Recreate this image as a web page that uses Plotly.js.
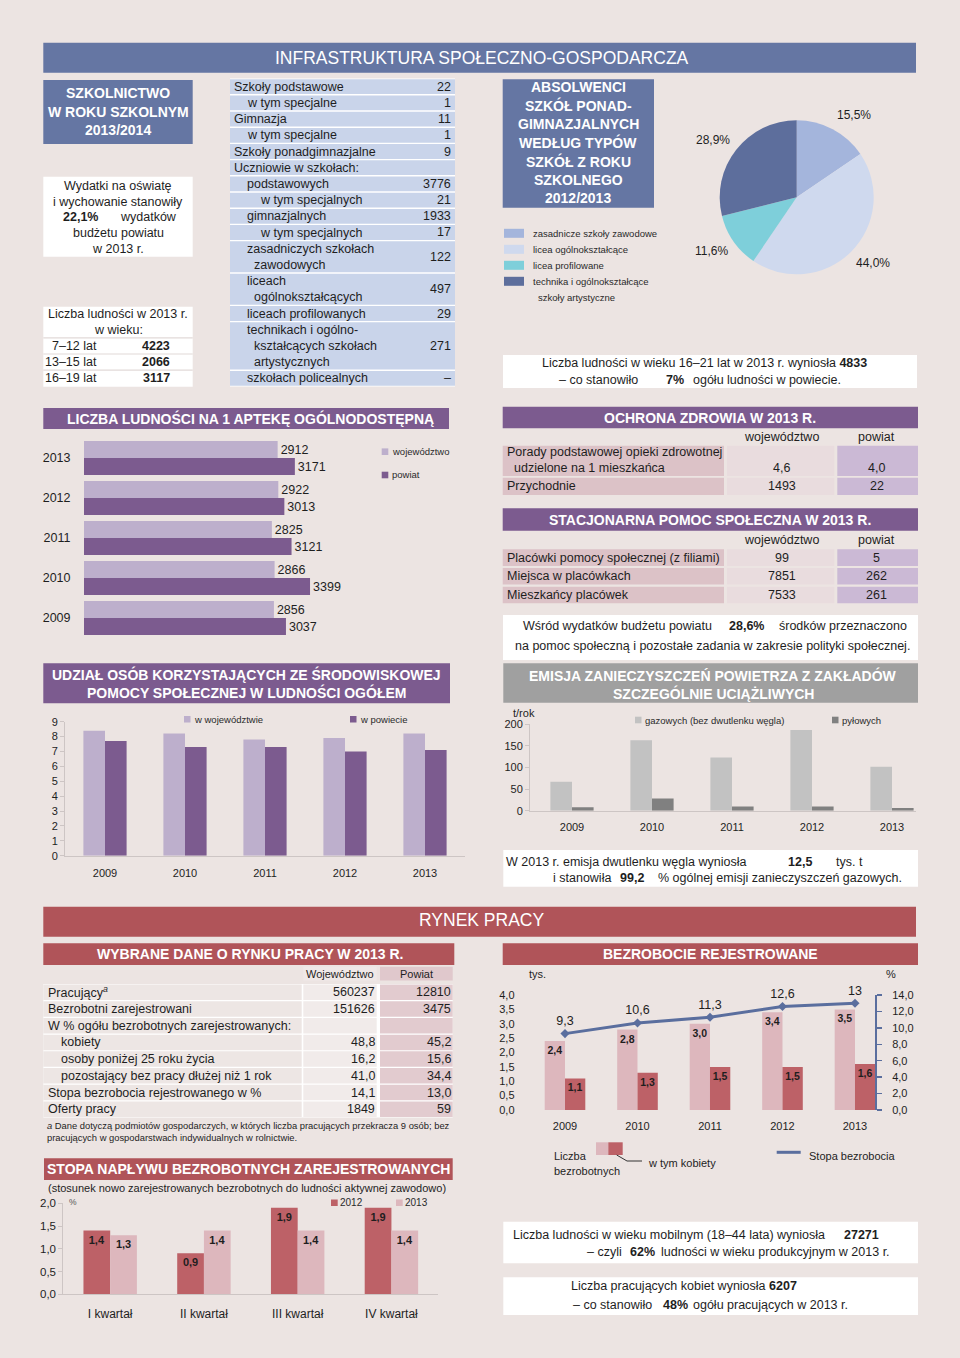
<!DOCTYPE html>
<html><head><meta charset="utf-8">
<script src="https://cdn.plot.ly/plotly-3.0.1.min.js"></script>
<style>html,body{margin:0;padding:0;background:#ece4e2}</style>
</head><body><div id="chart" style="width:960px;height:1358px"></div>
<script>
// ---------------- DATA ----------------
const schoolLabels = [["Szkoły podstawowe"],["w tym specjalne"],["Gimnazja"],["w tym specjalne"],["Szkoły ponadgimnazjalne"],["Uczniowie w szkołach:"],["podstawowych"],["w tym specjalnych"],["gimnazjalnych"],["w tym specjalnych"],["zasadniczych szkołach","zawodowych"],["liceach","ogólnokształcących"],["liceach profilowanych"],["technikach i ogólno-","kształcących szkołach","artystycznych"],["szkołach policealnych"]];
const schoolLevels = [0,1,0,1,0,0,1,2,1,2,1,1,1,1,1];
const schoolValues = ["22","1","11","1","9","","3776","21","1933","17","122","497","29","271","–"];

const ageGroups = ["7–12 lat","13–15 lat","16–19 lat"];
const ageValues = [4223, 2066, 3117];

const pieLabels = [["zasadnicze szkoły zawodowe"],["licea ogólnokształcące"],["licea profilowane"],["technika i ogólnokształcące","szkoły artystyczne"]];
const pieValues = [15.5, 44.0, 11.6, 28.9];

const aptekaYears = ["2009","2010","2011","2012","2013"];
const aptekaSeries = ["województwo","powiat"];
const aptekaWoj = [2856, 2866, 2825, 2922, 2912];
const aptekaPow = [3037, 3399, 3121, 3013, 3171];

const zdrowieRows = [["Porady podstawowej opieki zdrowotnej","udzielone na 1 mieszkańca"],["Przychodnie"]];
const zdrowieWoj = ["4,6","1493"];
const zdrowiePow = ["4,0","22"];

const pomocRows = ["Placówki pomocy społecznej (z filiami)","Miejsca w placówkach","Mieszkańcy placówek"];
const pomocWoj = [99, 7851, 7533];
const pomocPow = [5, 262, 261];

const udzialYears = ["2009","2010","2011","2012","2013"];
const udzialSeries = ["w województwie","w powiecie"];
const udzialWoj = [8.4, 8.2, 7.8, 7.9, 8.2];
const udzialPow = [7.7, 7.3, 7.3, 7.0, 7.1];

const emisjaYears = ["2009","2010","2011","2012","2013"];
const emisjaSeries = ["gazowych (bez dwutlenku węgla)","pyłowych"];
const emisjaGaz = [67, 163, 123, 187, 102];
const emisjaPyl = [8, 28, 10, 10, 6];

const rynekLabels = ["Pracujący<sup><i>a</i></sup>","Bezrobotni zarejestrowani","W % ogółu bezrobotnych zarejestrowanych:","kobiety","osoby poniżej 25 roku życia","pozostający bez pracy dłużej niż 1 rok","Stopa bezrobocia rejestrowanego w %","Oferty pracy"];
const rynekLevels = [0,0,0,1,1,1,0,0];
const rynekWoj = ["560237","151626","","48,8","16,2","41,0","14,1","1849"];
const rynekPow = ["12810","3475","","45,2","15,6","34,4","13,0","59"];

const bezYears = ["2009","2010","2011","2012","2013"];
const bezLiczba = [2.4, 2.8, 3.0, 3.4, 3.5];
const bezKobiety = [1.1, 1.3, 1.5, 1.5, 1.6];
const bezStopa = [9.3, 10.6, 11.3, 12.6, 13];

const kwartaly = ["I kwartał","II kwartał","III kwartał","IV kwartał"];
const naplywSeries = ["2012","2013"];
const naplyw2012 = [1.4, 0.9, 1.9, 1.9];
const naplyw2013 = [1.3, 1.4, 1.4, 1.4];

// ---------------- HELPERS ----------------
const W = 960, H = 1358;
const F = '"Liberation Sans", Arial, sans-serif';
const C = {bg:'#ece4e2', blue:'#6576a3', blueCell:'#c9d4ea', purple:'#7c5b8f', purpleL:'#bdafcc',
  gray:'#a0a0a0', gas:'#c2c2c2', dust:'#808080', red:'#b05459', redD:'#bd6167', redL:'#ddb7bd',
  line:'#5a6e9e', pinkCell:'#dcc2c7', wojCell:'#e9dcde', lavCell:'#cbb9d5', axis:'#cdc5c4', text:'#1e1e1e'};
const pieColors = ['#a4b5dc','#cfd9ee','#7ecfda','#5d6e9c'];
const shapes = [], annotations = [];
const R = (x0,y0,x1,y1,c) => shapes.push({type:'rect',xref:'paper',yref:'paper',x0:x0/W,x1:x1/W,y0:1-y1/H,y1:1-y0/H,fillcolor:c,line:{width:0},layer:'below'});
const P = (pts,c,w) => shapes.push({type:'path',xref:'paper',yref:'paper',path:'M'+pts.map(p=>(p[0]/W)+','+(1-p[1]/H)).join(' L'),line:{color:c,width:w},layer:'above'});
const T = (x,y,text,o={}) => { if(text==='' || text==null) return; annotations.push({xref:'paper',yref:'paper',x:x/W,y:1-y/H,text,showarrow:false,
  xanchor:o.a||'left',yanchor:'middle',align:o.a||'left',borderpad:0,
  font:{family:F,size:o.s||12.5,color:o.c||C.text}}); };
const dom = (a,b) => [a/W, b/W];
const domY = (top,bot) => [1-bot/H, 1-top/H];
const cm = v => v.toFixed(1).replace('.',',');

// ---------------- SECTION 1: INFRASTRUKTURA ----------------
R(43.3,42.7,916,72.7,C.blue);
T(482,58,'INFRASTRUKTURA SPOŁECZNO-GOSPODARCZA',{a:'center',s:17.5,c:'#ffffff'});

R(43.3,80,192.7,144,C.blue);
['SZKOLNICTWO','W ROKU SZKOLNYM','2013/2014'].forEach((t,i)=>T(118,92.7+[0,19,37.3][i],'<b>'+t+'</b>',{a:'center',s:14,c:'#ffffff'}));

R(43.3,176.7,192.7,256.7,'#ffffff');
T(118,185.7,'Wydatki na oświatę',{a:'center'});
T(118,201.7,'i wychowanie stanowiły',{a:'center'});
T(80,216.7,'<b>22,1%</b>',{a:'center'});
T(148,216.7,'wydatków',{a:'center'});
T(118,232.7,'budżetu powiatu',{a:'center'});
T(118,248.7,'w 2013 r.',{a:'center'});

R(43.3,306.7,192.7,386.7,'#ffffff');
T(118,314,'Liczba ludności w 2013 r.',{a:'center'});
T(118,330,'w wieku:',{a:'center'});
ageGroups.forEach((g,i)=>{
  const y = 346 + 16.2*i;
  R(43.3,y-8.8,192.7,y-7.6,'#e2dad8');
  T(98,y,g,{a:'right'});
  T(156,y,'<b>'+ageValues[i]+'</b>',{a:'center'});
});

// school table
(function(){
  const LH = 16.2, Y0 = 86.7, indent = [232.7,246,259], cont = 253;
  R(230,Y0-LH/2,455,Y0-LH/2+19*LH,'#ffffff');
  let line = 0;
  schoolLabels.forEach((lines,i)=>{
    const top = Y0-LH/2+line*LH, bot = top+lines.length*LH;
    R(230,top+0.7,455,bot-0.7,C.blueCell);
    lines.forEach((t,k)=>T(k===0?indent[schoolLevels[i]]:cont, Y0+(line+k)*LH, t));
    T(452,(top+bot)/2,schoolValues[i],{a:'right'});
    line += lines.length;
  });
})();

// absolwenci
R(502.7,79.3,654,207.7,C.blue);
['ABSOLWENCI','SZKÓŁ PONAD-','GIMNAZJALNYCH','WEDŁUG TYPÓW','SZKÓŁ Z ROKU','SZKOLNEGO','2012/2013'].forEach((t,i)=>
  T(578.3,87.3+18.5*i,'<b>'+t+'</b>',{a:'center',s:14,c:'#ffffff'}));
pieLabels.forEach((lines,i)=>{
  const y = 233.3+16*i;
  R(504,y-4.5,524,y+4.5,pieColors[i]);
  lines.forEach((t,k)=>T(k===0?531.7:536.7,y+k*16.4,t,{s:9.5,c:'#2a2a2a'}));
});
const pieLabelPos = [[854,115],[873,263],[711.7,251],[713,140]];
pieValues.forEach((v,i)=>T(pieLabelPos[i][0],pieLabelPos[i][1],cm(v)+'%',{a:'center',s:12}));

R(503,355,917,388,'#ffffff');
T(540.7,363.3,'Liczba ludności w wieku 16–21 lat w 2013 r. wyniosła <b>4833</b>');
T(558,380,'– co stanowiło');
T(665,380,'<b>7%</b>');
T(691.7,380,'ogółu ludności w powiecie.');

// ---------------- SECTION 2 ----------------
R(43.3,408,449,429,C.purple);
T(250,418.5,'<b>LICZBA LUDNOŚCI NA 1 APTEKĘ OGÓLNODOSTĘPNĄ</b>',{a:'center',s:14,c:'#ffffff'});
[C.purpleL,C.purple].forEach((c,i)=>{
  const y = 451.7+23.3*i;
  R(381.7,y-3.3,388.3,y+3.3,c);
  T(390.5,y,aptekaSeries[i],{s:9.5,c:'#2a2a2a'});
});

// ochrona zdrowia
R(502.7,406.7,918,428.3,C.purple);
T(710,417.5,'<b>OCHRONA ZDROWIA W 2013 R.</b>',{a:'center',s:14,c:'#ffffff'});
T(781.7,436.7,'województwo',{a:'center'});
T(876.7,436.7,'powiat',{a:'center'});
(function(){
  const rows = [[445.7,476],[477.7,495]];
  zdrowieRows.forEach((lines,i)=>{
    const [t,b] = rows[i];
    R(502.7,t,724,b,C.pinkCell); R(727,t,834.3,b,C.wojCell); R(837.3,t,918,b,C.lavCell);
    lines.forEach((s,k)=>T(k===0?506:512.7, lines.length>1 ? 451.7+16.6*k : (t+b)/2, s));
    const vy = lines.length>1 ? 468.3 : (t+b)/2;
    T(781.7,vy,zdrowieWoj[i],{a:'center'});
    T(876.7,vy,zdrowiePow[i],{a:'center'});
  });
})();
R(502.7,508.3,918,530.7,C.purple);
T(710,519.5,'<b>STACJONARNA POMOC SPOŁECZNA W 2013 R.</b>',{a:'center',s:14,c:'#ffffff'});
T(781.7,540,'województwo',{a:'center'});
T(876.7,540,'powiat',{a:'center'});
pomocRows.forEach((s,i)=>{
  const t = 549.3+18.7*i, b = t+16.6, y = (t+b)/2;
  R(502.7,t,724,b,C.pinkCell); R(727,t,834.3,b,C.wojCell); R(837.3,t,918,b,C.lavCell);
  T(506,y,s);
  T(781.7,y,String(pomocWoj[i]),{a:'center'});
  T(876.7,y,String(pomocPow[i]),{a:'center'});
});
R(503,615,918,660,'#ffffff');
T(521.7,626,'Wśród wydatków budżetu powiatu');
T(746.7,626,'<b>28,6%</b>',{a:'center'});
T(778.3,626,'środków przeznaczono');
T(712,646,'na pomoc społeczną i pozostałe zadania w zakresie polityki społecznej.',{a:'center'});

// udział
R(43.3,663.3,450,703.3,C.purple);
T(247,674,'<b>UDZIAŁ OSÓB KORZYSTAJĄCYCH ZE ŚRODOWISKOWEJ</b>',{a:'center',s:14,c:'#ffffff'});
T(247,692.3,'<b>POMOCY SPOŁECZNEJ W LUDNOŚCI OGÓŁEM</b>',{a:'center',s:14,c:'#ffffff'});
[[184,C.purpleL],[350,C.purple]].forEach(([x,c],i)=>{
  R(x,716,x+6.5,722.5,c);
  T(x+9,719.3,udzialSeries[i],{s:9.5,c:'#2a2a2a'});
});

// emisja
R(503.3,663.3,918,702.7,C.gray);
T(713,675,'<b>EMISJA ZANIECZYSZCZEŃ POWIETRZA Z ZAKŁADÓW</b>',{a:'center',s:14,c:'#ffffff'});
T(713,693.3,'<b>SZCZEGÓLNIE UCIĄŻLIWYCH</b>',{a:'center',s:14,c:'#ffffff'});
T(511.7,713.3,'t/rok',{s:11});
[[635,C.gas],[832,C.dust]].forEach(([x,c],i)=>{
  R(x,716.7,x+6.5,723.3,c);
  T(x+8.5,720,emisjaSeries[i],{s:9.5,c:'#2a2a2a'});
});
R(503.3,850,918,886.7,'#ffffff');
T(505,861.7,'W 2013 r. emisja dwutlenku węgla wyniosła');
T(800,861.7,'<b>12,5</b>',{a:'center'});
T(835,861.7,'tys. t');
T(551.7,878.3,'i stanowiła');
T(631.7,878.3,'<b>99,2</b>',{a:'center'});
T(656.7,878.3,'% ogólnej emisji zanieczyszczeń gazowych.');

// ---------------- SECTION 3: RYNEK PRACY ----------------
R(43.3,906.7,916,936.7,C.red);
T(481,920,'RYNEK PRACY',{a:'center',s:17.5,c:'#ffffff'});
R(43.3,943.3,454.3,965,C.red);
T(250,954,'<b>WYBRANE DANE O RYNKU PRACY W 2013 R.</b>',{a:'center',s:14,c:'#ffffff'});
R(303.3,966.7,376.7,980.5,'#efe8e7');
R(380,966.7,452.7,980.5,'#e0c8cc');
T(340,973.5,'Województwo',{a:'center',s:11});
T(416.3,973.5,'Powiat',{a:'center',s:11});
(function(){
  const Y0 = 992.3, S = 16.7;
  R(43.3,Y0-S/2,452.7,Y0-S/2+8*S,'#ffffff');
  rynekLabels.forEach((s,i)=>{
    const y = Y0+S*i, t = y-S/2+0.6, b = y+S/2-0.6;
    R(43.3,t,301.7,b,'#ede6e4'); R(303.3,t,376.7,b,'#f1ebea'); R(380,t,452.7,b,'#e2cbcf');
    T(rynekLevels[i]?60:46.7,y,s);
    T(375.5,y,rynekWoj[i],{a:'right'});
    T(451.5,y,rynekPow[i],{a:'right'});
  });
})();
T(46,1125,'<i>a</i> Dane dotyczą podmiotów gospodarczych, w których liczba pracujących przekracza 9 osób; bez',{s:9.4});
T(46,1137.7,'pracujących w gospodarstwach indywidualnych w rolnictwie.',{s:9.4});

// stopa napływu
R(44,1158.3,452.7,1180,C.red);
T(248.3,1169,'<b>STOPA NAPŁYWU BEZROBOTNYCH ZAREJESTROWANYCH</b>',{a:'center',s:14,c:'#ffffff'});
T(247,1188.3,'(stosunek nowo zarejestrowanych bezrobotnych do ludności aktywnej zawodowo)',{a:'center',s:11});
T(68,1201.7,'%',{s:8.5,c:'#555'});
[[331,C.redD],[396,C.redL]].forEach(([x,c],i)=>{
  R(x,1199.5,x+6.7,1206,c);
  T(x+7.5,1202.7,naplywSeries[i],{s:10,c:'#2a2a2a'});
});

// bezrobocie
R(502.7,943.3,918,965,C.red);
T(710,954,'<b>BEZROBOCIE REJESTROWANE</b>',{a:'center',s:14,c:'#ffffff'});
T(528.3,974.3,'tys.',{s:11});
T(891,974.3,'%',{a:'center',s:11});
R(596,1142.3,608.3,1155,C.redL);
R(608.3,1142.3,622.7,1155,C.redD);
T(553.3,1156.3,'Liczba',{s:11});
T(553.3,1171.3,'bezrobotnych',{s:11});
P([[616.7,1155],[627,1161],[642,1161]],'#333',1);
T(646.7,1162.5,'w tym kobiety',{s:11});
P([[776.7,1152.3],[800.7,1152.3]],C.line,3);
T(808.3,1156,'Stopa bezrobocia',{s:11});

R(503.3,1221.7,918,1263.3,'#ffffff');
T(511.7,1235,'Liczba ludności w wieku mobilnym (18–44 lata) wyniosła');
T(843.3,1235,'<b>27271</b>');
T(623,1252,'– czyli',{a:'right'});
T(629,1252,'<b>62%</b>');
T(660,1252,'ludności w wieku produkcyjnym w 2013 r.');

R(503.3,1277.3,918,1315,'#ffffff');
T(570,1286,'Liczba pracujących kobiet wyniosła <b>6207</b>');
T(571.7,1305,'– co stanowiło');
T(661.7,1305,'<b>48%</b>');
T(691.7,1305,'ogółu pracujących w 2013 r.');

// ---------------- TRACES ----------------
const barBase = {type:'bar', hoverinfo:'skip', cliponaxis:false, constraintext:'none'};
const traces = [
  // apteka (horizontal)
  Object.assign({}, barBase, {orientation:'h', x:aptekaPow, y:aptekaYears, xaxis:'x', yaxis:'y',
    marker:{color:C.purple}, width:0.425, offset:-0.425,
    text:aptekaPow.map(String), textposition:'outside', textfont:{family:F,size:12.5,color:C.text}}),
  Object.assign({}, barBase, {orientation:'h', x:aptekaWoj, y:aptekaYears, xaxis:'x', yaxis:'y',
    marker:{color:C.purpleL}, width:0.425, offset:0,
    text:aptekaWoj.map(String), textposition:'outside', textfont:{family:F,size:12.5,color:C.text}}),
  // udział
  Object.assign({}, barBase, {x:udzialYears, y:udzialWoj, xaxis:'x2', yaxis:'y2', marker:{color:C.purpleL}, width:0.27, offset:-0.27}),
  Object.assign({}, barBase, {x:udzialYears, y:udzialPow, xaxis:'x2', yaxis:'y2', marker:{color:C.purple}, width:0.27, offset:0}),
  // emisja
  Object.assign({}, barBase, {x:emisjaYears, y:emisjaGaz, xaxis:'x3', yaxis:'y3', marker:{color:C.gas}, width:0.27, offset:-0.27}),
  Object.assign({}, barBase, {x:emisjaYears, y:emisjaPyl, xaxis:'x3', yaxis:'y3', marker:{color:C.dust}, width:0.27, offset:0}),
  // bezrobocie
  Object.assign({}, barBase, {x:bezYears, y:bezLiczba, xaxis:'x4', yaxis:'y4', marker:{color:C.redL}, width:0.28, offset:-0.28,
    text:bezLiczba.map(cm), texttemplate:'<b>%{text}</b>', textposition:'inside', insidetextanchor:'end', textangle:0,
    insidetextfont:{family:F,size:10.5,color:C.text}}),
  Object.assign({}, barBase, {x:bezYears, y:bezKobiety, xaxis:'x4', yaxis:'y4', marker:{color:C.redD}, width:0.28, offset:0,
    text:bezKobiety.map(cm), texttemplate:'<b>%{text}</b>', textposition:'inside', insidetextanchor:'end', textangle:0,
    insidetextfont:{family:F,size:10.5,color:C.text}}),
  {type:'scatter', mode:'lines+markers+text', x:bezYears, y:bezStopa, xaxis:'x4', yaxis:'y5', hoverinfo:'skip', cliponaxis:false,
    line:{color:C.line,width:3}, marker:{symbol:'diamond',size:7,color:C.line},
    text:bezStopa.map(v=>String(v).replace('.',',')), textposition:'top center', textfont:{family:F,size:12.5,color:C.text}},
  // napływ
  Object.assign({}, barBase, {x:kwartaly, y:naplyw2012, xaxis:'x5', yaxis:'y7', marker:{color:C.redD}, width:0.285, offset:-0.285,
    text:naplyw2012.map(cm), texttemplate:'<b>%{text}</b>', textposition:'inside', insidetextanchor:'end', textangle:0,
    insidetextfont:{family:F,size:11,color:C.text}}),
  Object.assign({}, barBase, {x:kwartaly, y:naplyw2013, xaxis:'x5', yaxis:'y7', marker:{color:C.redL}, width:0.285, offset:0,
    text:naplyw2013.map(cm), texttemplate:'<b>%{text}</b>', textposition:'inside', insidetextanchor:'end', textangle:0,
    insidetextfont:{family:F,size:11,color:C.text}}),
  // pie
  {type:'pie', values:pieValues, labels:pieLabels.map(l=>l.join(' ')), sort:false, direction:'clockwise', rotation:0,
    textinfo:'none', hoverinfo:'skip', marker:{colors:pieColors, line:{width:0}},
    domain:{x:dom(719.7,873.7), y:domY(120.3,274.3)}}
];

const tf = s => ({family:F,size:s,color:C.text});
const hidden = 'rgba(0,0,0,0)';
const layout = {
  width:W, height:H, margin:{l:0,r:0,t:0,b:0}, paper_bgcolor:C.bg, plot_bgcolor:'rgba(0,0,0,0)',
  showlegend:false, barmode:'overlay', separators:', ', font:{family:F,size:11,color:C.text},
  shapes, annotations,
  // apteka
  xaxis:{domain:dom(84,416.5), range:[0,5000], visible:false, anchor:'y', fixedrange:true},
  yaxis:{domain:domY(438,638), type:'category', anchor:'x', showgrid:false, zeroline:false, showline:false,
    ticks:'outside', ticklen:10, tickcolor:hidden, tickfont:tf(12.5)},
  // udział
  xaxis2:{domain:dom(65,465), type:'category', anchor:'y2', showgrid:false, showline:true, linecolor:C.axis,
    ticks:'outside', ticklen:7, tickcolor:hidden, tickfont:tf(11)},
  yaxis2:{domain:domY(721.7,855.7), range:[0,9], dtick:1, anchor:'x2', showgrid:false, zeroline:false, showline:true,
    linecolor:C.axis, ticks:'outside', ticklen:4, tickcolor:C.axis, tickfont:tf(11)},
  // emisja
  xaxis3:{domain:dom(530,916), range:[-0.525,4.3], type:'category', anchor:'y3', showgrid:false, showline:true, linecolor:C.axis,
    ticks:'outside', ticklen:6, tickcolor:hidden, tickfont:tf(11)},
  yaxis3:{domain:domY(724.3,810.7), range:[0,200], dtick:50, anchor:'x3', showgrid:false, zeroline:false, showline:true,
    linecolor:C.axis, ticks:'outside', ticklen:4, tickcolor:C.axis, tickfont:tf(11)},
  // bezrobocie
  xaxis4:{domain:dom(528.75,875), range:[-0.5,4.276], type:'category', anchor:'y4', showgrid:false, showline:false,
    ticks:'outside', ticklen:6, tickcolor:hidden, tickfont:tf(11)},
  yaxis4:{domain:domY(995,1110), range:[0,4], dtick:0.5, tickformat:'.1f', anchor:'x4', showgrid:false, zeroline:false,
    showline:false, ticks:'outside', ticklen:11, tickcolor:hidden, tickfont:tf(11)},
  yaxis5:{overlaying:'y4', side:'right', anchor:'x4', range:[0,14], dtick:2, tickformat:'.1f', showgrid:false, zeroline:false,
    showline:true, linecolor:C.line, linewidth:2, ticks:'outside', ticklen:5, tickwidth:1.5, tickcolor:C.line,
    ticklabelstandoff:8, tickfont:tf(11)},
  yaxis6:{overlaying:'y4', side:'right', anchor:'x4', range:[0,14], dtick:2, showgrid:false, zeroline:false,
    showline:false, showticklabels:false, ticks:'inside', ticklen:5, tickwidth:1.5, tickcolor:C.line},
  // napływ
  xaxis5:{domain:dom(63.3,438.3), type:'category', anchor:'y7', showgrid:false, showline:true, linecolor:C.axis,
    ticks:'outside', ticklen:8, tickcolor:hidden, tickfont:tf(12)},
  yaxis7:{domain:domY(1203.3,1294.3), range:[0,2], dtick:0.5, tickformat:'.1f', anchor:'x5', showgrid:false, zeroline:false,
    showline:true, linecolor:C.axis, ticks:'outside', ticklen:4, tickcolor:C.axis, tickfont:tf(11.5)}
};

Plotly.newPlot('chart', traces, layout, {staticPlot:true, displayModeBar:false});
</script>
</body></html>
